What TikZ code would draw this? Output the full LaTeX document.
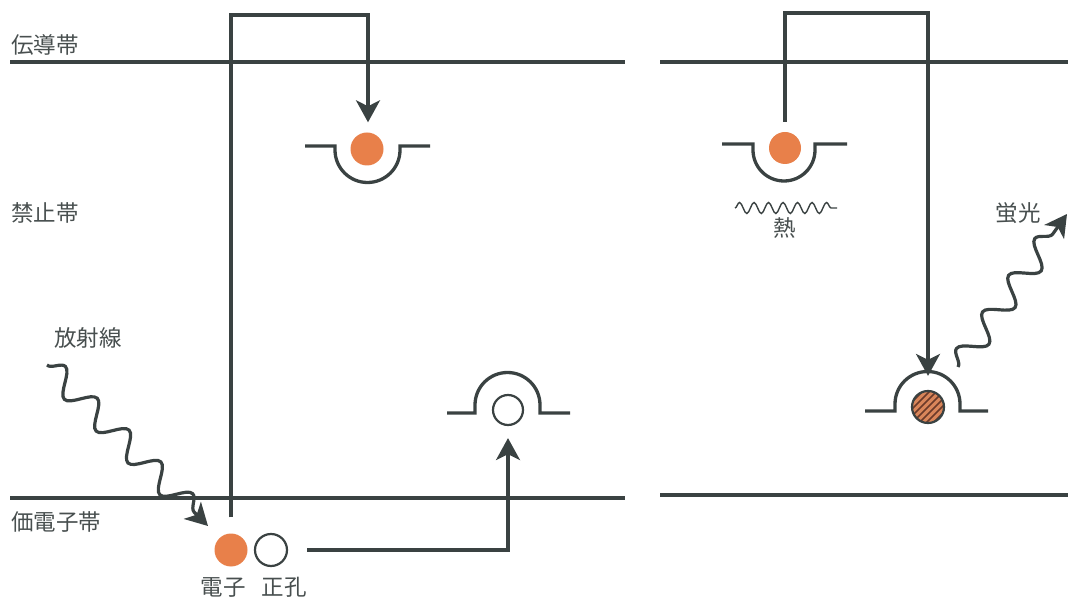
\documentclass[tikz,border=0pt]{standalone}
\usepackage{fontspec}
\newfontfamily\jp{Noto Sans CJK JP}
\usetikzlibrary{arrows.meta,decorations.pathmorphing}
\definecolor{ln}{HTML}{3A4242}
\definecolor{org}{HTML}{E8804A}
\definecolor{hatchfill}{HTML}{D9865A}
\definecolor{hatchline}{HTML}{6B3A2A}
\definecolor{txt}{HTML}{484F4F}
\begin{document}
\begin{tikzpicture}[x=1pt,y=1pt,
  band/.style={line width=3.3pt, draw=ln},
  conn/.style={line width=3.3pt, draw=ln},
  arr/.style={-{Stealth[length=22pt,width=24pt,inset=6pt]}},
  trap/.style={line width=3.3pt, draw=ln},
  elec/.style={circle, fill=org, minimum size=33pt, inner sep=0pt},
  hole/.style={circle, draw=ln, line width=2.2pt, minimum size=30pt, inner sep=0pt},
  lbl/.style={text=txt, font=\jp\fontsize{22.5}{22.5}\selectfont, inner sep=0pt},
  wavearrow/.style={line width=3.2pt, draw=ln, decorate,
    decoration={snake, amplitude=12pt, segment length=45pt, post length=16pt}},
  heatwave/.style={line width=1.4pt, draw=ln, decorate,
    decoration={snake, amplitude=5.5pt, segment length=14.5pt}},
  hatched/.style={circle, minimum size=32pt, inner sep=0pt, fill=hatchfill,
    draw=ln, line width=2.2pt,
    path picture={\foreach \i in {-42,-35,...,42}
      {\draw[line width=1.5pt, hatchline]
        ([shift={(\i-25,-25)}]path picture bounding box.center) -- ++(50,50);}}}
]
\useasboundingbox (0,0) rectangle (1071,-601);

% bands
\coordinate (cbL0) at (10,-62);  \coordinate (cbL1) at (625,-62);
\coordinate (vbL0) at (10,-498); \coordinate (vbL1) at (625,-498);
\coordinate (cbR0) at (660,-62); \coordinate (cbR1) at (1068,-62);
\coordinate (vbR0) at (660,-495); \coordinate (vbR1) at (1068,-495);
\draw[band] (cbL0) -- (cbL1);
\draw[band] (vbL0) -- (vbL1);
\draw[band] (cbR0) -- (cbR1);
\draw[band] (vbR0) -- (vbR1);

% labels
\node[lbl, anchor=west] (lcb) at (11,-45) {伝導帯};
\node[lbl, anchor=west] (lfb) at (11,-213) {禁止帯};
\node[lbl, anchor=west] (lvb) at (11,-522) {価電子帯};
\node[lbl] (lrad) at (88,-338) {放射線};
\node[lbl] (lel) at (223,-587) {電子};
\node[lbl] (lho) at (284,-587) {正孔};
\node[lbl] (lheat) at (785,-228) {熱};
\node[lbl] (lfl) at (1018,-213) {蛍光};

% traps
\draw[trap] (305,-146) -- (335,-146) -- (335,-150)
  arc[start angle=180, end angle=360, radius=32.5] -- (400,-146) -- (430,-146);
\draw[trap] (447,-413) -- (475,-413) -- (475,-405)
  arc[start angle=180, end angle=0, radius=32.5] -- (540,-413) -- (570,-413);
\draw[trap] (722,-144) -- (753,-144) -- (753,-150)
  arc[start angle=180, end angle=360, radius=31] -- (815,-144) -- (847,-144);
\draw[trap] (865,-411) -- (895,-411) -- (895,-404)
  arc[start angle=180, end angle=0, radius=32.5] -- (960,-411) -- (988,-411);

% carriers
\node[elec] (eT) at (367,-149) {};
\node[hole] (hT) at (508,-410) {};
\node[elec] (eB) at (231,-550) {};
\node[hole, minimum size=32pt] (hB) at (271,-550) {};
\node[elec, minimum size=32pt] (eR) at (785,-148) {};
\node[hatched] (eRec) at (928,-407) {};

% left connectors
\coordinate (l0) at ([yshift=16pt]eB.north);
\coordinate (l1) at (231,-15);
\coordinate (l2) at (368,-15);
\coordinate (l3) at ([yshift=10pt]eT.north);
\draw[conn, arr] (l0) -- (l1) -- (l2) -- (l3 -| l2);

\coordinate (b0) at ([xshift=19pt]hB.east);
\coordinate (b2) at ([yshift=-12pt]hT.south);
\draw[conn, arr] (b0) -| (b2);

% right connectors
\coordinate (r0) at ([yshift=10pt]eR.north);
\coordinate (r1) at (785,-13);
\coordinate (r2) at (928,-13);
\coordinate (r3) at ([yshift=14pt]eRec.north);
\draw[conn, arr] (r0) -- (r1) -- (r2) -- (r3 -| r2);

% radiation
\coordinate (rad0) at (47,-365);
\coordinate (rad1) at (208,-526);
\draw[wavearrow, arr] (rad0) -- (rad1);

% fluorescence
\coordinate (fl0) at (958,-367);
\coordinate (fl1) at (1067,-214);
\draw[wavearrow, arr] (fl0) -- (fl1);

% heat
\coordinate (h0) at (735,-208);
\coordinate (h1) at (837,-208);
\draw[heatwave] (h0) -- (h1);
\end{tikzpicture}
\end{document}
